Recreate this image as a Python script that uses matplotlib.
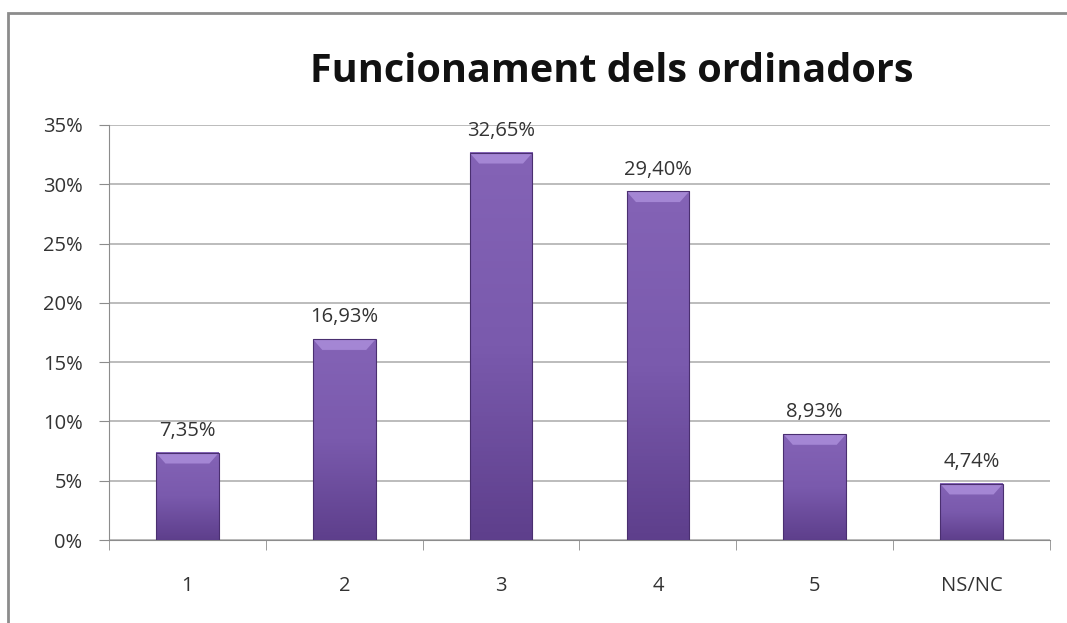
import numpy as np
import matplotlib.pyplot as plt
from matplotlib.patches import Rectangle, Polygon
from matplotlib.colors import LinearSegmentedColormap

# Datos
categorias = ['1', '2', '3', '4', '5', 'NS/NC']
valores = [7.35, 16.93, 32.65, 29.40, 8.93, 4.74]
etiquetas = ['7,35%', '16,93%', '32,65%', '29,40%', '8,93%', '4,74%']
yticks = [0, 5, 10, 15, 20, 25, 30, 35]

plt.rcParams['font.family'] = ['Open Sans', 'DejaVu Sans']

fig = plt.figure(figsize=(10.67, 6.23), dpi=100)
ax = fig.add_axes([109 / 1067, 1 - 540 / 623, (1050 - 109) / 1067, (540 - 125) / 623])

# Marco exterior
fig.patches.append(Rectangle((8 / 1067, -0.01), 1.05, 1 - 13 / 623 + 0.01,
                             transform=fig.transFigure, fill=False,
                             edgecolor='#8c8c8c', linewidth=2))

x = np.arange(len(categorias))
ancho = 0.4

# Gradiente simple dentro de cada barra
grad = np.linspace(0, 1, 100).reshape(-1, 1)
cmap = LinearSegmentedColormap.from_list('morado', ['#5e3f8c', '#7a5aad', '#8463b6'])
for xi, v in zip(x, valores):
    ax.imshow(grad, extent=(xi - ancho / 2, xi + ancho / 2, 0, v), origin='lower',
              cmap=cmap, aspect='auto', zorder=3.5)
    # bisel superior
    b = 0.06
    ax.add_patch(Polygon([(xi - ancho / 2, v), (xi + ancho / 2, v),
                          (xi + ancho / 2 - b, v - 0.9), (xi - ancho / 2 + b, v - 0.9)],
                         closed=True, facecolor='#a486d4', edgecolor='none', zorder=3.6))
    ax.add_patch(Rectangle((xi - ancho / 2, 0), ancho, v, fill=False,
                           edgecolor='#4a2f70', linewidth=0.8, zorder=3.7))

for xi, v, t in zip(x, valores, etiquetas):
    ax.text(xi, v + 1.0, t, ha='center', va='bottom', fontsize=14.5, color='#333333')

ax.set_xlim(-0.5, len(categorias) - 0.5)
ax.set_ylim(0, 35)
ax.set_yticks(yticks)
ax.set_yticklabels([f'{t}%' for t in yticks], fontsize=14.5, color='#333333')
ax.set_xticks(x)
ax.set_xticklabels(categorias, fontsize=14.5, color='#333333')
ax.set_xticks(np.arange(-0.5, len(categorias)), minor=True)
ax.tick_params(axis='x', which='major', length=0, pad=26)
ax.tick_params(axis='x', which='minor', length=7, color='#8c8c8c', direction='out')
ax.tick_params(axis='y', length=7, color='#8c8c8c', pad=12)

ax.grid(axis='y', color='#b0b0b0', linewidth=1.2, zorder=0)
for s in ['top', 'right']:
    ax.spines[s].set_visible(False)
ax.spines['left'].set_color('#8c8c8c')
ax.spines['bottom'].set_color('#8c8c8c')

fig.text(612 / 1067, 1 - 72 / 623, 'Funcionament dels ordinadors', ha='center', va='center',
         fontsize=28.5, fontweight='bold', color='#111111')

fig.savefig('out.png', dpi=100)
